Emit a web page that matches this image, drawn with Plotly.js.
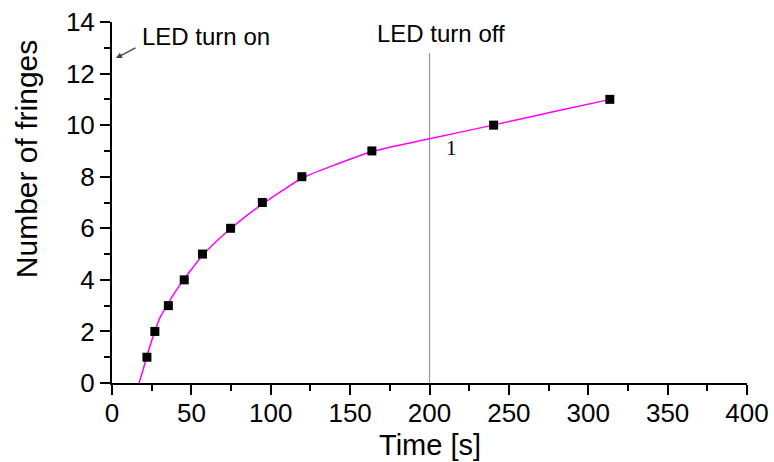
<!DOCTYPE html>
<html>
<head>
<meta charset="utf-8">
<script src="https://cdn.plot.ly/plotly-3.0.1.min.js"></script>
<style>html,body{margin:0;padding:0;background:#fff;}#chart{width:774px;height:462px;}</style>
</head>
<body>
<div id="chart"></div>
<script>
// measured data points
const timeS = [22, 27, 35.5, 45.5, 57, 74.7, 94.7, 119.6, 163.7, 240.4, 313.6];
const fringes = [1, 2, 3, 4, 5, 6, 7, 8, 9, 10, 11];
// fitted curve
const fitTime = [17, 20, 22, 25, 27, 30, 35, 40, 45, 50, 57, 65, 75, 85, 95, 107, 120, 140, 164, 200, 240, 280, 314];
const fitFringes = [0, 0.6, 1.05, 1.65, 2.0, 2.5, 3.05, 3.55, 4.0, 4.4, 4.95, 5.45, 6.0, 6.5, 6.95, 7.45, 7.95, 8.45, 8.98, 9.47, 10.0, 10.55, 11.0];
const ledOff = 200;
const ledOffTop = 12.8;
const xTickVals = [0, 50, 100, 150, 200, 250, 300, 350, 400];
const yTickVals = [0, 2, 4, 6, 8, 10, 12, 14];

const font = 'Arial, "Liberation Sans", sans-serif';
const traces = [
  {x: [ledOff, ledOff], y: [0, ledOffTop], mode: 'lines', line: {color: '#999999', width: 1.2}, hoverinfo: 'skip'},
  {x: fitTime, y: fitFringes, mode: 'lines', line: {color: '#ff00ff', width: 1.5, shape: 'spline', smoothing: 0.8}},
  {x: timeS, y: fringes, mode: 'markers', marker: {symbol: 'square', size: 9, color: '#000000'}}
];
const axisCommon = {
  showline: true, linecolor: '#000', linewidth: 2, showgrid: false, zeroline: false,
  ticks: 'outside', ticklen: 10, tickwidth: 2, tickcolor: '#000',
  tickfont: {family: font, size: 26, color: '#000'},
  minor: {ticks: 'outside', ticklen: 6, tickwidth: 2, tickcolor: '#000'}
};
const layout = {
  width: 774, height: 462,
  margin: {l: 112, r: 27, t: 22, b: 79},
  paper_bgcolor: '#fff', plot_bgcolor: '#fff',
  showlegend: false,
  xaxis: Object.assign({}, axisCommon, {
    range: [0, 400], tickvals: xTickVals, ticklabelstandoff: -4,
    minor: Object.assign({}, axisCommon.minor, {dtick: 25, tick0: 0})
  }),
  yaxis: Object.assign({}, axisCommon, {
    range: [0, 14], tickvals: yTickVals, minor: Object.assign({}, axisCommon.minor, {dtick: 1, tick0: 0})
  }),
  annotations: [
    {xref: 'paper', yref: 'paper', x: 0, y: 0.62, xshift: -86, xanchor: 'center', yanchor: 'middle',
     text: 'Number of fringes', textangle: -90,
     showarrow: false, font: {family: font, size: 30, color: '#000'}},
    {xref: 'paper', yref: 'paper', x: 0.5, y: 0, yshift: -62, xanchor: 'center', yanchor: 'middle',
     text: 'Time [s]', showarrow: false, font: {family: font, size: 29, color: '#000'}},
    {x: 2.5, y: 12.6, xref: 'x', yref: 'y', text: '', showarrow: true, arrowhead: 2, arrowsize: 1, arrowwidth: 1.2,
     ax: 21, ay: -11, standoff: 0},
    {x: 17.4, y: 13.45, xref: 'x', yref: 'y', text: 'LED turn on', showarrow: false, xanchor: 'left',
     font: {family: font, size: 24, color: '#000'}},
    {x: 207, y: 13.56, xref: 'x', yref: 'y', text: 'LED turn off', showarrow: false,
     font: {family: font, size: 24, color: '#000'}},
    {x: 213.6, y: 9.13, xref: 'x', yref: 'y', text: '1', showarrow: false,
     font: {family: '"Liberation Serif", "Times New Roman", serif', size: 21, color: '#000'}}
  ]
};
Plotly.newPlot('chart', traces, layout, {displayModeBar: false, staticPlot: true});
</script>
</body>
</html>
